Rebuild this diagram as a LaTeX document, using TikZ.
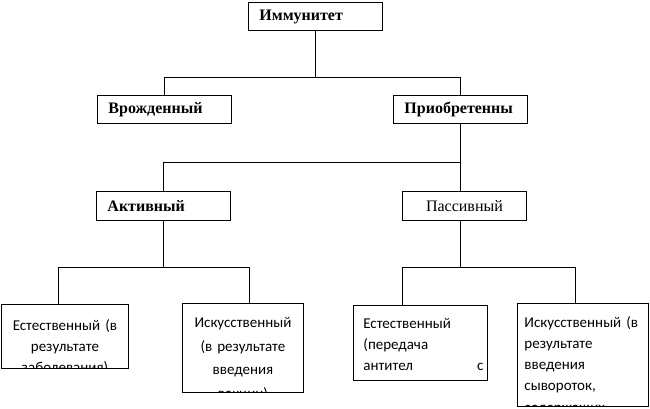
\documentclass[tikz,border=0pt]{standalone}
\usepackage{fontspec}
\setmainfont{Liberation Serif}
\newfontfamily\calibrifont{Carlito}
\usetikzlibrary{positioning,calc}
\tikzset{HEAD/.style={rectangle,draw,line width=0.9pt,minimum height=28.5pt,inner xsep=11pt,text width=112pt,align=left,anchor=north west,font=\fontsize{16}{18}\selectfont\bfseries}}
\tikzset{PLAIN/.style={rectangle,draw,line width=0.9pt,minimum height=28.5pt,align=center,anchor=north west,font=\fontsize{16}{18}\selectfont}}
\tikzset{LEAF/.style={rectangle,draw,line width=0.9pt,inner sep=0pt,anchor=north west}}
\tikzset{LEAFTEXT/.style={draw=none,fill=none,inner sep=0pt,anchor=north,font=\calibrifont\fontsize{15}{#1}\selectfont}}
\tikzset{LINK/.style={line width=0.9pt}}

\begin{document}
\begin{tikzpicture}[x=1pt,y=-1pt]
\useasboundingbox (0,0) rectangle (650,409);

\node[HEAD] (n_immunity) at (248,2) {Иммунитет};
\node[HEAD] (n_innate) at (97,95) {Врожденный};
\node[HEAD] (n_acquired) at (393,95) {Приобретенны};
\node[HEAD] (n_active) at (96,191) {Активный};
\node[PLAIN, minimum width=124pt] (n_passive) at (402,191) {Пассивный};

\node[LEAF, minimum width=127pt, minimum height=64pt, path picture={
    \node[LEAFTEXT=21pt, text width=125pt, align=center] at ($(path picture bounding box.north)+(0,-10pt)$)
    {Естественный (в\\ результате\\ заболевания)};}] (n_active_nat) at (1,304) {};
\node[LEAF, minimum width=121pt, minimum height=89pt, path picture={
    \node[LEAFTEXT=23.5pt, text width=119pt, align=center] at ($(path picture bounding box.north)+(0,-11pt)$)
    {Искусственный\\ (в результате\\ введения\\ вакцин)};}] (n_active_art) at (182,303) {};
\node[LEAF, minimum width=134pt, minimum height=75pt, path picture={
    \node[LEAFTEXT=21pt, text width=120pt, align=left] at ($(path picture bounding box.north)+(3pt,-1pt)$)
    {Естественный\\ (передача\\ антител \hfill с};}] (n_passive_nat) at (353,305) {};
\node[LEAF, minimum width=131pt, minimum height=103pt, path picture={
    \node[LEAFTEXT=21.3pt, text width=119pt, align=left] at ($(path picture bounding box.north)+(1pt,-10pt)$)
    {Искусственный (в\\ результате\\ введения\\ сывороток,\\ содержащих};}] (n_passive_art) at (517,303) {};

% first split
\coordinate (c_bus_top) at (0,77);
\draw[LINK] (n_immunity.south) -- (n_immunity.south |- c_bus_top);
\draw[LINK] (n_innate.north) |- (c_bus_top -| n_acquired.north) -- (n_acquired.north);

% acquired
\coordinate (c_bus_mid) at (0,162);
\draw[LINK] (n_acquired.south) -- (n_passive.north -| n_acquired.south);
\draw[LINK] (n_active.north) |- (c_bus_mid -| n_acquired.south);

% leaves
\coordinate (c_drop_a) at (58,267);
\coordinate (c_drop_b) at (249,267);
\coordinate (c_drop_c) at (402,267);
\coordinate (c_drop_d) at (575,267);
\draw[LINK] (n_active.south) -- (n_active.south |- c_drop_a);
\draw[LINK] (n_active_nat.north -| c_drop_a) -- (c_drop_a) -- (c_drop_b) -- (n_active_art.north -| c_drop_b);
\draw[LINK] (n_passive.south -| n_acquired.south) -- (n_acquired.south |- c_drop_c);
\draw[LINK] (n_passive_nat.north -| c_drop_c) -- (c_drop_c) -- (c_drop_d) -- (n_passive_art.north -| c_drop_d);

\end{tikzpicture}
\end{document}
